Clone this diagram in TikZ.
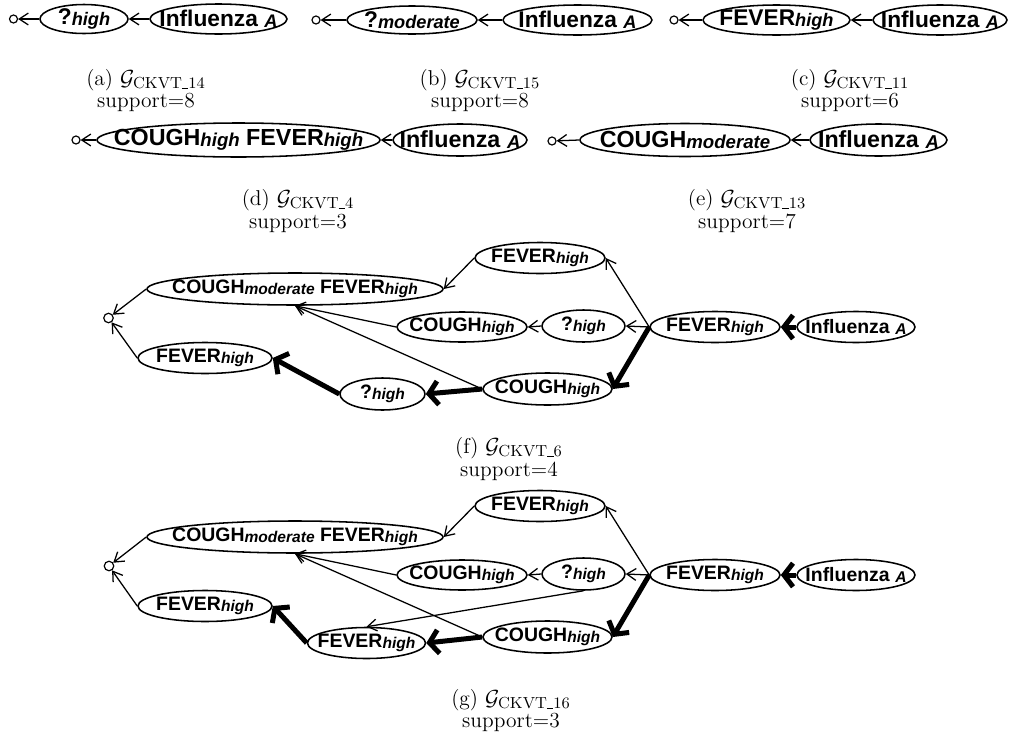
\documentclass[tikz,border=0pt]{standalone}
\usepackage{fontspec}
\newfontfamily\arial{Liberation Sans}
\usetikzlibrary{shapes.geometric,arrows.meta}
\newcommand\sub[1]{\raisebox{-0.08ex}{\scalebox{0.8}{\bfseries\itshape #1}}}
\newcommand\att[2]{\textbf{#1}\sub{#2}}
\newcommand\flu{\textbf{Influenza }\sub{A}}
\newcommand\us{\rule{0.4em}{0.07em}}
\newcommand\gr[1]{$\mathcal{G}_{\mbox{\fontsize{8.8}{10}\selectfont CKVT\us#1}}$}
\begin{document}
\begin{tikzpicture}[x=0.55pt,y=-0.55pt,
    ell/.style 2 args={draw,ellipse,line width=0.85pt,inner sep=0pt,
        minimum width=#1*0.55pt,minimum height=#2*0.55pt},
    root/.style={draw,circle,line width=0.65pt,inner sep=0pt,minimum size=#1*0.55pt},
    ln/.style={line width=0.7pt,-{Straight Barb[length=5pt,width=6.5pt]}},
    tk/.style={line width=2.75pt,-{Straight Barb[length=5pt,width=13pt]}},
    captext/.style={anchor=base,inner sep=0.5pt,font=\fontsize{11.8}{14}\selectfont}]
    \useasboundingbox (0,0) rectangle (1011,737);

    \begin{scope}[font=\arial\fontsize{12.5}{15}\selectfont]
    \node[root=8] (ra) at (13.5,19) {};
    \node[ell={88}{29},label=center:{\att{?}{high}}] (qa) at (84,19) {};
    \node[ell={137}{30},label=center:{\flu}] (ia) at (218.5,19) {};
    \node[root=8] (rb) at (316,20) {};
    \node[ell={130}{28},label=center:{\att{?}{moderate}}] (qb) at (412,20) {};
    \node[ell={149}{30},label=center:{\flu}] (ib) at (577.5,20) {};
    \node[root=8] (rc) at (674,20) {};
    \node[ell={147}{30},label=center:{\att{FEVER}{high}}] (fc) at (776.5,20) {};
    \node[ell={134}{30},label=center:{\flu}] (ic) at (940,20) {};
    \end{scope}
    \draw[ln] (ia.west) -- (qa.east);
    \draw[ln] (qa.west) -- (ra);
    \draw[ln] (ib.west) -- (qb.east);
    \draw[ln] (qb.west) -- (rb);
    \draw[ln] (ic.west) -- (fc.east);
    \draw[ln] (fc.west) -- (rc);

    \node[captext] (capa) at (146,85) {(a) \gr{14}};
    \node[captext] (supa) at (146,107) {support=8};
    \node[captext] (capb) at (480,85) {(b) \gr{15}};
    \node[captext] (supb) at (480,107) {support=8};
    \node[captext] (capc) at (850,85) {(c) \gr{11}};
    \node[captext] (supc) at (850,107) {support=6};

    \begin{scope}[font=\arial\fontsize{12.8}{15}\selectfont]
    \node[root=8] (rd) at (76,140) {};
    \node[ell={283}{34},label=center:{\att{COUGH}{high} \att{FEVER}{high}}] (cfd) at (238.5,140) {};
    \node[ell={134}{32},label=center:{\flu}] (id) at (460,140) {};
    \node[root=8] (re) at (552,141) {};
    \node[ell={210}{33},label=center:{\att{COUGH}{moderate}}] (ce) at (685,140) {};
    \node[ell={137}{32},label=center:{\flu}] (ie) at (878.5,140) {};
    \end{scope}
    \draw[ln] (id.west) -- (cfd.east);
    \draw[ln] (cfd.west) -- (rd);
    \draw[ln] (ie.west) -- (ce.east);
    \draw[ln] (ce.west) -- (re);

    \node[captext] (capd) at (298,205) {(d) \gr{4}};
    \node[captext] (supd) at (298,228) {support=3};
    \node[captext] (cape) at (747,205) {(e) \gr{13}};
    \node[captext] (supe) at (747,228) {support=7};

    \begin{scope}[font=\arial\fontsize{10.7}{12}\selectfont]
    \node[root=9.5] (rf) at (108.5,318) {};
    \node[ell={296}{32},label=center:{\att{COUGH}{moderate} \att{FEVER}{high}}] (cmf) at (295,289) {};
    \node[ell={130}{31},label=center:{\att{FEVER}{high}}] (ftf) at (540,258) {};
    \node[ell={130}{30},label=center:{\att{COUGH}{high}}] (chf) at (462,327) {};
    \node[ell={83}{32},label=center:{\att{?}{high}}] (qmf) at (583.5,326) {};
    \node[ell={130}{31},label=center:{\att{FEVER}{high}}] (frf) at (715,327) {};
    \node[ell={118}{31},label=center:{\flu}] (inf) at (856,327) {};
    \node[ell={134}{31},label=center:{\att{FEVER}{high}}] (flf) at (205,358) {};
    \node[ell={85}{32},label=center:{\att{?}{high}}] (qbf) at (382.5,394) {};
    \node[ell={129}{32},label=center:{\att{COUGH}{high}}] (cbf) at (547.5,389) {};
    \end{scope}
    \draw[tk] (inf.west) -- (frf.east);
    \draw[tk] (frf.west) -- (cbf.east);
    \draw[tk] (cbf.west) -- (qbf.east);
    \draw[tk] (qbf.west) -- (flf.east);
    \draw[ln] (frf.west) -- (ftf.east);
    \draw[ln] (frf.west) -- (qmf.east);
    \draw[ln] (ftf.west) -- (cmf.east);
    \draw[ln] (qmf.west) -- (chf.east);
    \draw[ln] (chf.west) -- (cmf.south);
    \draw[ln] (cbf.west) -- (cmf.south);
    \draw[ln] (cmf.west) -- (rf);
    \draw[ln] (flf.west) -- (rf);

    \node[captext] (capf) at (509,453) {(f) \gr{6}};
    \node[captext] (supf) at (509,476) {support=4};

    \begin{scope}[font=\arial\fontsize{10.7}{12}\selectfont]
    \node[root=9.5] (rg) at (109,566) {};
    \node[ell={296}{32},label=center:{\att{COUGH}{moderate} \att{FEVER}{high}}] (cmg) at (295,537) {};
    \node[ell={130}{31},label=center:{\att{FEVER}{high}}] (ftg) at (540,506) {};
    \node[ell={130}{30},label=center:{\att{COUGH}{high}}] (chg) at (462,575) {};
    \node[ell={83}{32},label=center:{\att{?}{high}}] (qmg) at (583.5,574) {};
    \node[ell={130}{31},label=center:{\att{FEVER}{high}}] (frg) at (715,575) {};
    \node[ell={118}{31},label=center:{\flu}] (ing) at (856,575) {};
    \node[ell={134}{31},label=center:{\att{FEVER}{high}}] (flg) at (205,606) {};
    \node[ell={118}{31},label=center:{\att{FEVER}{high}}] (fbg) at (366.5,643) {};
    \node[ell={129}{32},label=center:{\att{COUGH}{high}}] (cbg) at (547.5,637) {};
    \end{scope}
    \draw[tk] (ing.west) -- (frg.east);
    \draw[tk] (frg.west) -- (cbg.east);
    \draw[tk] (cbg.west) -- (fbg.east);
    \draw[tk] (fbg.west) -- (flg.east);
    \draw[ln] (frg.west) -- (ftg.east);
    \draw[ln] (frg.west) -- (qmg.east);
    \draw[ln] (ftg.west) -- (cmg.east);
    \draw[ln] (qmg.west) -- (chg.east);
    \draw[ln] (qmg.south) -- (fbg.north);
    \draw[ln] (chg.west) -- (cmg.south);
    \draw[ln] (cbg.west) -- (cmg.south);
    \draw[ln] (cmg.west) -- (rg);
    \draw[ln] (flg.west) -- (rg);

    \node[captext] (capg) at (511,705) {(g) \gr{16}};
    \node[captext] (supg) at (511,727) {support=3};
\end{tikzpicture}
\end{document}
